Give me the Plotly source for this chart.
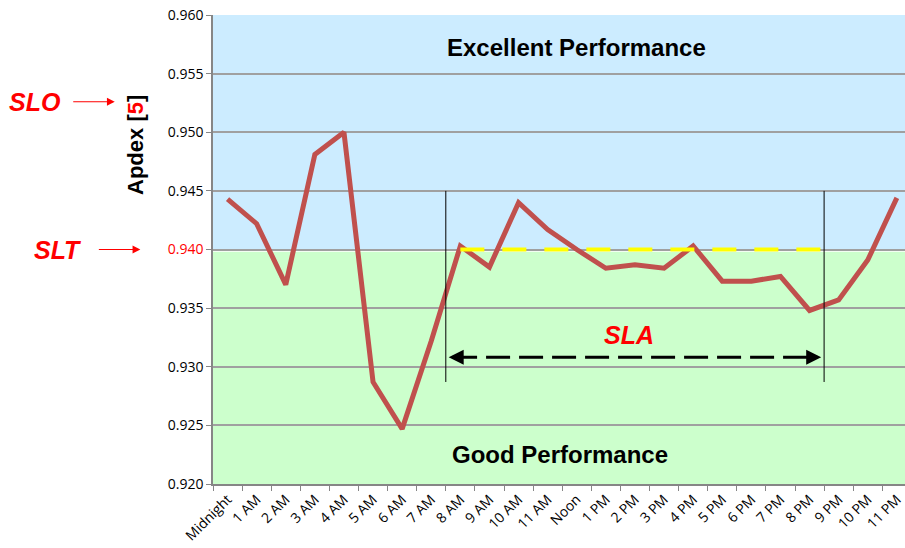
import plotly.graph_objects as go

# Hourly Apdex readings
hours = ['Midnight', '1 AM', '2 AM', '3 AM', '4 AM', '5 AM', '6 AM', '7 AM',
         '8 AM', '9 AM', '10 AM', '11 AM', 'Noon', '1 PM', '2 PM', '3 PM',
         '4 PM', '5 PM', '6 PM', '7 PM', '8 PM', '9 PM', '10 PM', '11 PM']
apdex = [0.9443, 0.9422, 0.9370, 0.9481, 0.9500, 0.9287, 0.9247, 0.9322,
         0.9403, 0.9385, 0.9440, 0.9417, 0.9400, 0.9384, 0.9387, 0.9384,
         0.9403, 0.9373, 0.9373, 0.9377, 0.9348, 0.9357, 0.9391, 0.9444]

y_ticks = [0.920, 0.925, 0.930, 0.935, 0.940, 0.945, 0.950, 0.955, 0.960]
slt = 0.940
y_min, y_max = 0.920, 0.960

FONT = 'Liberation Sans, Arial, sans-serif'
TICK_FONT = 'Open Sans, Liberation Sans, sans-serif'

tick_text = []
for v in y_ticks:
    s = f'{v:.3f}'
    if abs(v - slt) < 1e-9:
        s = f"<span style='color:#FF0000'>{s}</span>"
    tick_text.append(s)

fig = go.Figure()

fig.add_trace(
    go.Scatter(
        x=hours,
        y=apdex,
        mode='lines',
        line=dict(color='#C0504D', width=5),
        showlegend=False,
        hoverinfo='x+y'
    )
)

shapes = [
    # performance zones
    dict(type='rect', xref='paper', yref='y', x0=0, x1=1, y0=slt, y1=y_max,
         fillcolor='#CCECFF', line=dict(width=0), layer='below'),
    dict(type='rect', xref='paper', yref='y', x0=0, x1=1, y0=y_min, y1=slt - 0.0002,
         fillcolor='#CCFFCC', line=dict(width=0), layer='below'),
    # SLA window boundaries
    dict(type='line', xref='x', yref='y', x0=7.5, x1=7.5, y0=0.9287, y1=0.945,
         line=dict(color='black', width=1)),
    dict(type='line', xref='x', yref='y', x0=20.5, x1=20.5, y0=0.9287, y1=0.945,
         line=dict(color='black', width=1)),
    # SLT target within SLA
    dict(type='line', xref='x', yref='y', x0=8.0, x1=20.5, y0=slt, y1=slt,
         line=dict(color='#FFFF00', width=4, dash='24px,18px')),
    # SLA dashed span
    dict(type='line', xref='x', yref='y', x0=7.75, x1=20.25, y0=0.9308, y1=0.9308,
         line=dict(color='black', width=3, dash='24px,9px')),
]

annotations = [
    dict(text='<b>Excellent Performance</b>', x=12.0, y=0.9572, xref='x', yref='y',
         showarrow=False, font=dict(family=FONT, size=24, color='black')),
    dict(text='<b>Good Performance</b>', x=11.43, y=0.9225, xref='x', yref='y',
         showarrow=False, font=dict(family=FONT, size=24, color='black')),
    dict(text='<b><i>SLA</i></b>', x=13.8, y=0.9327, xref='x', yref='y',
         showarrow=False, font=dict(family=FONT, size=25, color='#FF0000')),
    # SLA arrowheads
    dict(text='', x=7.6, y=0.9308, xref='x', yref='y', ax=14, ay=0,
         showarrow=True, arrowhead=2, arrowsize=1, arrowwidth=3, arrowcolor='black'),
    dict(text='', x=20.4, y=0.9308, xref='x', yref='y', ax=-14, ay=0,
         showarrow=True, arrowhead=2, arrowsize=1, arrowwidth=3, arrowcolor='black'),
    # axis title
    dict(text="<b>Apdex [<span style='color:#FF0000'>5</span>]</b>",
         x=-0.113, y=0.9489, xref='paper', yref='y', textangle=-90,
         xanchor='center', yanchor='middle',
         showarrow=False, font=dict(family=FONT, size=22, color='black')),
    # SLO / SLT labels
    dict(text='<b><i>SLO</i></b>', x=-0.257, y=0.9526, xref='paper', yref='y',
         xanchor='center', yanchor='middle',
         showarrow=False, font=dict(family=FONT, size=25, color='#FF0000')),
    dict(text='', x=-0.142, y=0.9526, xref='paper', yref='y', ax=-43, ay=0,
         showarrow=True, arrowhead=2, arrowsize=1.3, arrowwidth=1.2, arrowcolor='#FF0000'),
    dict(text='<b><i>SLT</i></b>', x=-0.224, y=slt, xref='paper', yref='y',
         xanchor='center', yanchor='middle',
         showarrow=False, font=dict(family=FONT, size=25, color='#FF0000')),
    dict(text='', x=-0.105, y=slt, xref='paper', yref='y', ax=-43, ay=0,
         showarrow=True, arrowhead=2, arrowsize=1.3, arrowwidth=1.2, arrowcolor='#FF0000'),
]

fig.update_layout(
    width=905,
    height=548,
    margin=dict(l=213, r=0, t=15, b=64),
    paper_bgcolor='white',
    plot_bgcolor='white',
    shapes=shapes,
    annotations=annotations,
    xaxis=dict(
        type='category',
        range=[-0.5, 23.28],
        tickson='boundaries',
        ticks='outside',
        ticklen=5,
        tickcolor='#868686',
        tickangle=-45,
        tickfont=dict(family=TICK_FONT, size=14, color='black'),
        showgrid=False,
        showline=True,
        linecolor='#868686',
        linewidth=1.5,
        zeroline=False,
        fixedrange=True
    ),
    yaxis=dict(
        range=[y_min, y_max],
        tickvals=y_ticks,
        ticktext=tick_text,
        ticks='outside',
        ticklen=5,
        tickcolor='#868686',
        tickfont=dict(family=TICK_FONT, size=14, color='black'),
        showgrid=True,
        gridcolor='#A0A0A0',
        gridwidth=1.5,
        showline=True,
        linecolor='#868686',
        linewidth=1.5,
        zeroline=False,
        fixedrange=True
    ),
    showlegend=False
)

fig.write_html("out.html", config=dict(displayModeBar=False),
               post_script="document.body.style.margin='0';")
